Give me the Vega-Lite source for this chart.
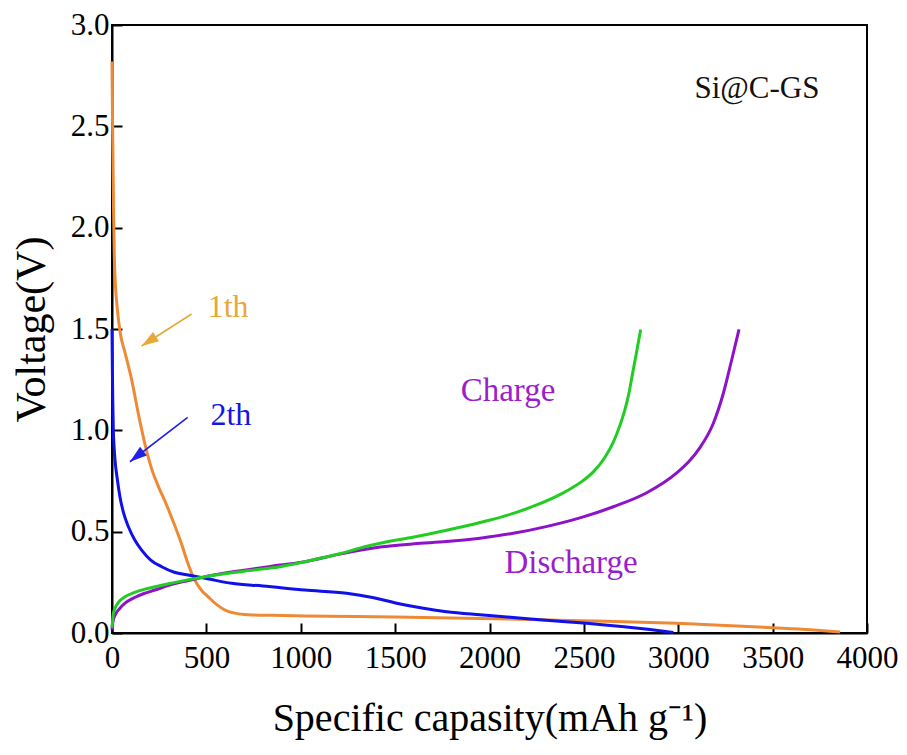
{
  "$schema": "https://vega.github.io/schema/vega-lite/v6.json",
  "width": 755,
  "height": 608,
  "padding": {"left": 112, "top": 25, "right": 40, "bottom": 122},
  "autosize": {"type": "none"},
  "background": "white",
  "config": {
    "font": "Liberation Serif",
    "view": {"stroke": "black", "strokeWidth": 2},
    "axis": {
      "grid": false,
      "domainColor": "black",
      "domainWidth": 2,
      "tickColor": "black",
      "tickWidth": 2,
      "tickSize": -10,
      "labelFont": "Liberation Serif",
      "labelFontSize": 31,
      "labelColor": "black",
      "labelFlush": false,
      "labelOverlap": false,
      "titleFont": "Liberation Serif",
      "titleFontWeight": "normal",
      "titleColor": "black"
    }
  },
  "datasets": {
    "curves": [
      {"s": "1st", "o": 1, "x": 0, "y": 2.82},
      {"s": "1st", "o": 2, "x": 2, "y": 2.6},
      {"s": "1st", "o": 3, "x": 5, "y": 2.35},
      {"s": "1st", "o": 4, "x": 8, "y": 2.1},
      {"s": "1st", "o": 5, "x": 12, "y": 1.87},
      {"s": "1st", "o": 6, "x": 18, "y": 1.72},
      {"s": "1st", "o": 7, "x": 25, "y": 1.63},
      {"s": "1st", "o": 8, "x": 42, "y": 1.49},
      {"s": "1st", "o": 9, "x": 70, "y": 1.38},
      {"s": "1st", "o": 10, "x": 104, "y": 1.25},
      {"s": "1st", "o": 11, "x": 140, "y": 1.08},
      {"s": "1st", "o": 12, "x": 175, "y": 0.93},
      {"s": "1st", "o": 13, "x": 210, "y": 0.81},
      {"s": "1st", "o": 14, "x": 245, "y": 0.725},
      {"s": "1st", "o": 15, "x": 290, "y": 0.63},
      {"s": "1st", "o": 16, "x": 320, "y": 0.56},
      {"s": "1st", "o": 17, "x": 345, "y": 0.5},
      {"s": "1st", "o": 18, "x": 370, "y": 0.435},
      {"s": "1st", "o": 19, "x": 396, "y": 0.36},
      {"s": "1st", "o": 20, "x": 420, "y": 0.3},
      {"s": "1st", "o": 21, "x": 445, "y": 0.25},
      {"s": "1st", "o": 22, "x": 475, "y": 0.21},
      {"s": "1st", "o": 23, "x": 510, "y": 0.178},
      {"s": "1st", "o": 24, "x": 555, "y": 0.14},
      {"s": "1st", "o": 25, "x": 599, "y": 0.113},
      {"s": "1st", "o": 26, "x": 650, "y": 0.098},
      {"s": "1st", "o": 27, "x": 722, "y": 0.09},
      {"s": "1st", "o": 28, "x": 850, "y": 0.087},
      {"s": "1st", "o": 29, "x": 1022, "y": 0.084},
      {"s": "1st", "o": 30, "x": 1500, "y": 0.079},
      {"s": "1st", "o": 31, "x": 1950, "y": 0.072},
      {"s": "1st", "o": 32, "x": 2480, "y": 0.061},
      {"s": "1st", "o": 33, "x": 2992, "y": 0.048},
      {"s": "1st", "o": 34, "x": 3504, "y": 0.026},
      {"s": "1st", "o": 35, "x": 3700, "y": 0.016},
      {"s": "1st", "o": 36, "x": 3857, "y": 0.005},
      {"s": "2nd", "o": 1, "x": 0, "y": 1.5},
      {"s": "2nd", "o": 2, "x": 2, "y": 1.3},
      {"s": "2nd", "o": 3, "x": 4, "y": 1.15},
      {"s": "2nd", "o": 4, "x": 7, "y": 1.0},
      {"s": "2nd", "o": 5, "x": 11, "y": 0.92},
      {"s": "2nd", "o": 6, "x": 16, "y": 0.853},
      {"s": "2nd", "o": 7, "x": 28, "y": 0.76},
      {"s": "2nd", "o": 8, "x": 42, "y": 0.672},
      {"s": "2nd", "o": 9, "x": 62, "y": 0.59},
      {"s": "2nd", "o": 10, "x": 87, "y": 0.524},
      {"s": "2nd", "o": 11, "x": 120, "y": 0.46},
      {"s": "2nd", "o": 12, "x": 157, "y": 0.409},
      {"s": "2nd", "o": 13, "x": 205, "y": 0.36},
      {"s": "2nd", "o": 14, "x": 263, "y": 0.327},
      {"s": "2nd", "o": 15, "x": 330, "y": 0.3},
      {"s": "2nd", "o": 16, "x": 404, "y": 0.286},
      {"s": "2nd", "o": 17, "x": 520, "y": 0.265},
      {"s": "2nd", "o": 18, "x": 634, "y": 0.245},
      {"s": "2nd", "o": 19, "x": 800, "y": 0.232},
      {"s": "2nd", "o": 20, "x": 1022, "y": 0.212},
      {"s": "2nd", "o": 21, "x": 1243, "y": 0.196},
      {"s": "2nd", "o": 22, "x": 1380, "y": 0.175},
      {"s": "2nd", "o": 23, "x": 1508, "y": 0.147},
      {"s": "2nd", "o": 24, "x": 1650, "y": 0.122},
      {"s": "2nd", "o": 25, "x": 1773, "y": 0.105},
      {"s": "2nd", "o": 26, "x": 1950, "y": 0.09},
      {"s": "2nd", "o": 27, "x": 2126, "y": 0.077},
      {"s": "2nd", "o": 28, "x": 2300, "y": 0.063},
      {"s": "2nd", "o": 29, "x": 2479, "y": 0.051},
      {"s": "2nd", "o": 30, "x": 2700, "y": 0.032},
      {"s": "2nd", "o": 31, "x": 2850, "y": 0.017},
      {"s": "2nd", "o": 32, "x": 2974, "y": 0.003},
      {"s": "dis", "o": 1, "x": 0, "y": 0.015},
      {"s": "dis", "o": 2, "x": 3, "y": 0.045},
      {"s": "dis", "o": 3, "x": 7, "y": 0.064},
      {"s": "dis", "o": 4, "x": 20, "y": 0.095},
      {"s": "dis", "o": 5, "x": 40, "y": 0.12},
      {"s": "dis", "o": 6, "x": 69, "y": 0.147},
      {"s": "dis", "o": 7, "x": 120, "y": 0.175},
      {"s": "dis", "o": 8, "x": 170, "y": 0.195},
      {"s": "dis", "o": 9, "x": 228, "y": 0.212},
      {"s": "dis", "o": 10, "x": 300, "y": 0.235},
      {"s": "dis", "o": 11, "x": 400, "y": 0.258},
      {"s": "dis", "o": 12, "x": 493, "y": 0.278},
      {"s": "dis", "o": 13, "x": 700, "y": 0.31},
      {"s": "dis", "o": 14, "x": 890, "y": 0.335},
      {"s": "dis", "o": 15, "x": 1022, "y": 0.352},
      {"s": "dis", "o": 16, "x": 1200, "y": 0.388},
      {"s": "dis", "o": 17, "x": 1420, "y": 0.424},
      {"s": "dis", "o": 18, "x": 1600, "y": 0.44},
      {"s": "dis", "o": 19, "x": 1773, "y": 0.451},
      {"s": "dis", "o": 20, "x": 1950, "y": 0.468},
      {"s": "dis", "o": 21, "x": 2126, "y": 0.492},
      {"s": "dis", "o": 22, "x": 2300, "y": 0.525},
      {"s": "dis", "o": 23, "x": 2479, "y": 0.568},
      {"s": "dis", "o": 24, "x": 2656, "y": 0.623},
      {"s": "dis", "o": 25, "x": 2833, "y": 0.692},
      {"s": "dis", "o": 26, "x": 2992, "y": 0.79},
      {"s": "dis", "o": 27, "x": 3060, "y": 0.85},
      {"s": "dis", "o": 28, "x": 3115, "y": 0.915},
      {"s": "dis", "o": 29, "x": 3186, "y": 1.035},
      {"s": "dis", "o": 30, "x": 3239, "y": 1.183},
      {"s": "dis", "o": 31, "x": 3283, "y": 1.347},
      {"s": "dis", "o": 32, "x": 3322, "y": 1.498},
      {"s": "chg", "o": 1, "x": 0, "y": 0.025},
      {"s": "chg", "o": 2, "x": 3, "y": 0.06},
      {"s": "chg", "o": 3, "x": 7, "y": 0.097},
      {"s": "chg", "o": 4, "x": 20, "y": 0.13},
      {"s": "chg", "o": 5, "x": 40, "y": 0.158},
      {"s": "chg", "o": 6, "x": 69, "y": 0.179},
      {"s": "chg", "o": 7, "x": 120, "y": 0.2},
      {"s": "chg", "o": 8, "x": 170, "y": 0.215},
      {"s": "chg", "o": 9, "x": 228, "y": 0.228},
      {"s": "chg", "o": 10, "x": 300, "y": 0.243},
      {"s": "chg", "o": 11, "x": 400, "y": 0.262},
      {"s": "chg", "o": 12, "x": 493, "y": 0.278},
      {"s": "chg", "o": 13, "x": 700, "y": 0.305},
      {"s": "chg", "o": 14, "x": 890, "y": 0.327},
      {"s": "chg", "o": 15, "x": 1022, "y": 0.352},
      {"s": "chg", "o": 16, "x": 1200, "y": 0.39},
      {"s": "chg", "o": 17, "x": 1350, "y": 0.428},
      {"s": "chg", "o": 18, "x": 1420, "y": 0.443},
      {"s": "chg", "o": 19, "x": 1600, "y": 0.474},
      {"s": "chg", "o": 20, "x": 1773, "y": 0.507},
      {"s": "chg", "o": 21, "x": 1950, "y": 0.545},
      {"s": "chg", "o": 22, "x": 2126, "y": 0.59},
      {"s": "chg", "o": 23, "x": 2250, "y": 0.632},
      {"s": "chg", "o": 24, "x": 2373, "y": 0.683},
      {"s": "chg", "o": 25, "x": 2430, "y": 0.712},
      {"s": "chg", "o": 26, "x": 2490, "y": 0.748},
      {"s": "chg", "o": 27, "x": 2550, "y": 0.795},
      {"s": "chg", "o": 28, "x": 2610, "y": 0.865},
      {"s": "chg", "o": 29, "x": 2656, "y": 0.942},
      {"s": "chg", "o": 30, "x": 2690, "y": 1.022},
      {"s": "chg", "o": 31, "x": 2718, "y": 1.103},
      {"s": "chg", "o": 32, "x": 2738, "y": 1.18},
      {"s": "chg", "o": 33, "x": 2755, "y": 1.265},
      {"s": "chg", "o": 34, "x": 2778, "y": 1.38},
      {"s": "chg", "o": 35, "x": 2801, "y": 1.498}
    ],
    "arrows": [
      {"a": "1th", "x": 422, "y": 1.574, "x2": 157, "y2": 1.416, "ang": 237, "c": "#E8A838"},
      {"a": "2th", "x": 401, "y": 1.064, "x2": 95, "y2": 0.845, "ang": 232, "c": "#2222E6"}
    ],
    "labels": [
      {"t": "1th", "x": 615, "y": 1.608, "c": "#E8A838", "fs": 32},
      {"t": "2th", "x": 630, "y": 1.075, "c": "#1515E6", "fs": 32},
      {"t": "Charge", "x": 2098, "y": 1.194, "c": "#9A1ECC", "fs": 33},
      {"t": "Discharge", "x": 2432, "y": 0.345, "c": "#9A1ECC", "fs": 33},
      {"t": "Si@C-GS", "x": 3417, "y": 2.684, "c": "#111111", "fs": 31}
    ]
  },
  "layer": [
    {
      "data": {"name": "curves"},
      "mark": {"type": "line", "strokeWidth": 3, "interpolate": "monotone"},
      "encoding": {
        "x": {
          "field": "x", "type": "quantitative",
          "scale": {"domain": [0, 4000], "nice": false},
          "axis": {
            "values": [0, 500, 1000, 1500, 2000, 2500, 3000, 3500, 4000],
            "format": "d",
            "title": "Specific capasity(mAh g⁻¹)",
            "titleFont": "Liberation Serif",
            "labelFont": "Liberation Serif",
            "labelFontSize": 31,
            "labelFlush": false,
            "titleFontSize": 40,
            "titlePadding": 25,
            "labelPadding": 20
          }
        },
        "y": {
          "field": "y", "type": "quantitative",
          "scale": {"domain": [0, 3], "nice": false},
          "axis": {
            "values": [0, 0.5, 1, 1.5, 2, 2.5, 3],
            "format": ".1f",
            "title": "Voltage(V)",
            "titleFont": "Liberation Serif",
            "labelFont": "Liberation Serif",
            "labelFontSize": 31,
            "labelFlush": false,
            "titleFontSize": 42,
            "titlePadding": 17,
            "labelPadding": 13
          }
        },
        "color": {
          "field": "s", "type": "nominal",
          "scale": {"domain": ["1st", "2nd", "dis", "chg"], "range": ["#EE8A35", "#1010E8", "#8E12C8", "#22CC22"]},
          "legend": null
        },
        "order": {"field": "o"}
      }
    },
    {
      "data": {"name": "arrows"},
      "mark": {"type": "rule", "strokeWidth": 1.6},
      "encoding": {
        "x": {"field": "x", "type": "quantitative"},
        "y": {"field": "y", "type": "quantitative"},
        "x2": {"field": "x2"},
        "y2": {"field": "y2"},
        "color": {"field": "c", "type": "nominal", "scale": null}
      }
    },
    {
      "data": {"name": "arrows"},
      "mark": {"type": "point", "shape": "M0,0L-0.45,1.4L0.45,1.4Z", "filled": true, "size": 600, "opacity": 1},
      "encoding": {
        "x": {"field": "x2", "type": "quantitative"},
        "y": {"field": "y2", "type": "quantitative"},
        "angle": {"field": "ang", "type": "quantitative", "scale": null},
        "color": {"field": "c", "type": "nominal", "scale": null}
      }
    },
    {
      "data": {"name": "labels"},
      "mark": {"type": "text", "font": "Liberation Serif", "align": "center", "baseline": "middle"},
      "encoding": {
        "x": {"field": "x", "type": "quantitative"},
        "y": {"field": "y", "type": "quantitative"},
        "text": {"field": "t"},
        "size": {"field": "fs", "type": "quantitative", "scale": null},
        "color": {"field": "c", "type": "nominal", "scale": null}
      }
    }
  ]
}
